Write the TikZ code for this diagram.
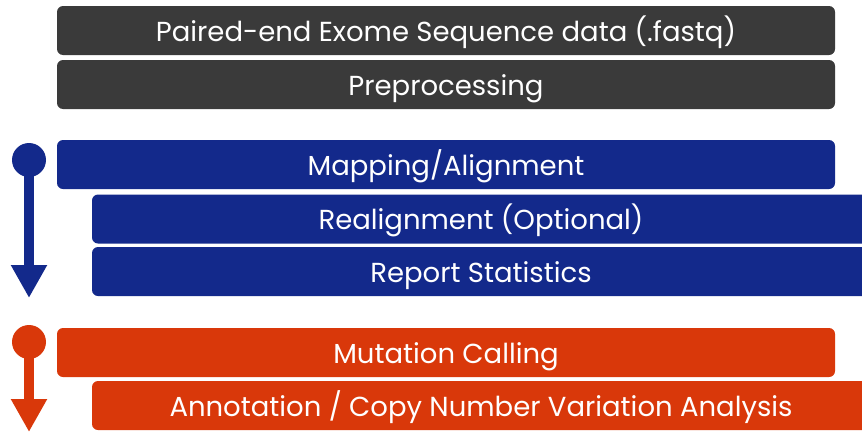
\documentclass[tikz,border=0pt]{standalone}
\usepackage{fontspec}
\setmainfont{Poppins}
\usetikzlibrary{arrows.meta}
\definecolor{stepgray}{HTML}{3A3A3A}
\definecolor{stepblue}{HTML}{13298B}
\definecolor{steporange}{HTML}{D9380A}
\begin{document}
\begin{tikzpicture}[x=1pt,y=-1pt,
  stepbox/.style={rounded corners=6pt, text=white, inner sep=0pt,
    minimum height=49pt, minimum width=778pt,
    text height=24pt, text depth=3pt,
    font=\fontsize{27.5}{30}\selectfont},
  dot/.style={circle, inner sep=0pt, minimum size=34pt},
  flow/.style={line width=10pt, -{Triangle[width=34pt,length=33pt]}}]
\useasboundingbox (0,0) rectangle (862,434);
\clip (0,0) rectangle (862,434);

% input and preprocessing
\node[stepbox, fill=stepgray] (fastq) at (446,30.5) {Paired-end Exome Sequence data (.fastq)};
\node[stepbox, fill=stepgray] (prep) at (446,84.5) {Preprocessing};

% alignment stage
\node[stepbox, fill=stepblue] (map) at (446,164.5) {Mapping/Alignment};
\node[stepbox, fill=stepblue] (realign) at (481,219) {Realignment (Optional)};
\node[stepbox, fill=stepblue] (stats) at (481,271.5) {Report Statistics};

% calling stage
\node[stepbox, fill=steporange] (call) at (446,352.5) {Mutation Calling};
\node[stepbox, fill=steporange] (annot) at (481,405.5) {Annotation / Copy Number Variation Analysis};

% stage arrows
\node[dot, fill=stepblue] (bluedot) at (29,160) {};
\coordinate (blueend) at (29,298);
\draw[flow, stepblue] (bluedot.center) -- (blueend);

\node[dot, fill=steporange] (orangedot) at (29,342) {};
\coordinate (orangeend) at (29,432);
\draw[flow, steporange] (orangedot.center) -- (orangeend);
\end{tikzpicture}
\end{document}
